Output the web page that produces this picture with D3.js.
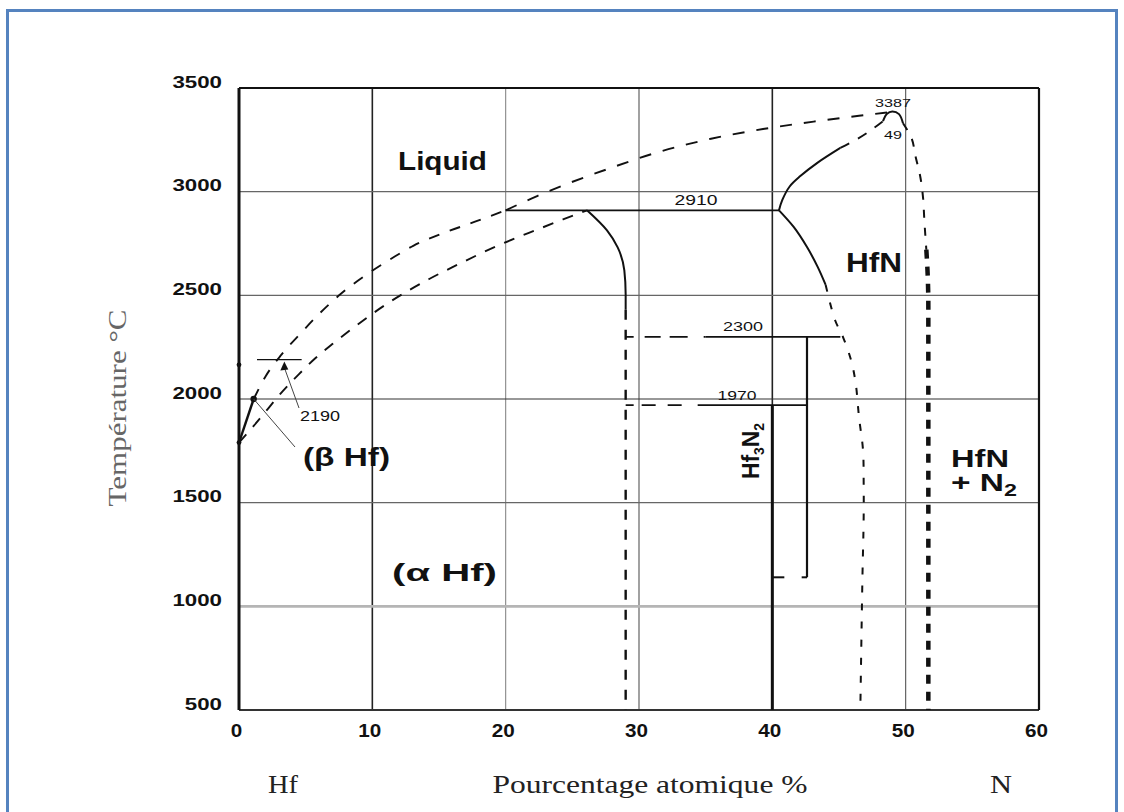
<!DOCTYPE html>
<html>
<head>
<meta charset="utf-8">
<script src="https://cdn.jsdelivr.net/npm/d3@7"></script>
<style>
  html, body { margin: 0; padding: 0; background: #fff; }
  svg { display: block; }
</style>
</head>
<body>
<svg id="chart" width="1124" height="812"></svg>
<script>
// Hf–N phase diagram: composition in at.% N against temperature in °C

const xTicks = [0, 10, 20, 30, 40, 50, 60];
const yTicks = [500, 1000, 1500, 2000, 2500, 3000, 3500];

// liquidus on the Hf side, rising to the 2910 °C peritectic
const liquidusHf = [[1.1, 2000], [2, 2110], [3.2, 2215], [4.6, 2315], [6, 2410], [7.6, 2505],
  [9.8, 2610], [11.5, 2680], [13.1, 2740], [15.1, 2795], [17.7, 2855], [20, 2910]];
// liquidus of HfN, from the peritectic to the congruent maximum
const liquidusHfN = [[20, 2910], [22.4, 2980], [24.5, 3035], [27.6, 3108], [31.4, 3190], [35.4, 3255],
  [39.3, 3302], [43.1, 3338], [46.5, 3366], [48.6, 3382]];
// congruent melting maximum of HfN (3387 °C at 49 %)
const meltMax = [[48.3, 3340], [48.6, 3376], [49, 3387], [49.5, 3374], [49.8, 3330]];
// solidus of (αHf)
const solidusAlpha = [[0, 1790], [1.1, 1870], [2.2, 1955], [3.1, 2025], [4.5, 2120], [5.7, 2195],
  [7.0, 2265], [8.3, 2330], [11.0, 2455], [14.3, 2580], [16.4, 2648], [17.9, 2695], [19.6, 2745],
  [22.4, 2818], [24.3, 2866], [26.1, 2910]];
// (αHf) solvus
const solvusAlpha = [[26.1, 2910], [27.6, 2813], [28.4, 2731], [28.9, 2620], [29.0, 2505], [29.0, 2430]];
const solvusAlphaLow = [[29.0, 2430], [29.0, 500]];
// HfN solidus towards the maximum
const solidusHfN = [[40.5, 2910], [40.75, 2960], [41.3, 3025], [42.1, 3075], [43.4, 3140], [45.1, 3211]];
const solidusHfNHigh = [[45.1, 3211], [47.1, 3283], [48.3, 3340]];
// Hf-rich boundary of HfN
const boundaryHfN = [[40.5, 2910], [41.6, 2830], [42.6, 2733], [43.4, 2637], [44.0, 2550]];
const boundaryHfNLow = [[44.0, 2550], [44.7, 2381], [45.3, 2299], [45.9, 2188], [46.25, 2077],
  [46.5, 1913], [46.8, 1754], [46.85, 1595], [46.85, 1431], [46.75, 1113], [46.6, 500]];
// N-rich boundary of HfN (HfN + N2)
const boundaryN = [[49.8, 3330], [50.4, 3264], [50.75, 3167], [51.1, 3071], [51.3, 2974],
  [51.4, 2863], [51.55, 2720]];
const boundaryNLow = [[51.55, 2720], [51.65, 2600], [51.7, 2450], [51.7, 500]];
// (βHf) field
const betaHf = [[0, 1790], [1.1, 2000]];
const peritecticBeta = [[1.35, 2190], [4.7, 2190]];
// isotherms
const iso2910 = [[20, 2910], [40.5, 2910]];
const iso2300Open = [[29.0, 2300], [35.0, 2300]];
const iso2300 = [[35.0, 2300], [45.1, 2300]];
const iso1970Open = [[29.0, 1970], [34.5, 1970]];
const iso1970 = [[34.5, 1970], [42.6, 1970]];
// Hf3N2 phase
const hf3n2Left = [[40.0, 1970], [40.0, 500]];
const hf3n2Right = [[42.6, 2300], [42.6, 1140]];
const hf3n2FootL = [[40.0, 1140], [40.9, 1140]];
const hf3n2FootR = [[42.2, 1140], [42.6, 1140]];
const dots = [[0, 1790], [1.1, 2000], [0, 2165]];

const sans = "'Liberation Sans', Arial, sans-serif";
const serif = "'Liberation Serif', 'Times New Roman', serif";

const svg = d3.select("#chart");

const x = d3.scaleLinear().domain([0, 60]).range([239, 1039]);
const y = d3.scaleLinear().domain([500, 3500]).range([710, 88]);

// page frame
svg.append("rect")
  .attr("x", 7.5).attr("y", 10.5).attr("width", 1109).attr("height", 860)
  .attr("fill", "none").attr("stroke", "#5583bf").attr("stroke-width", 3);

// grid
xTicks.slice(1, -1).forEach(v => {
  const dark = v === 10 || v === 40;
  svg.append("line")
    .attr("x1", x(v)).attr("x2", x(v)).attr("y1", y(3500)).attr("y2", y(500))
    .attr("stroke", dark ? "#222" : (v === 20 ? "#888" : "#555"))
    .attr("stroke-width", dark ? 1.6 : 1.1);
});
yTicks.slice(1, -1).forEach(v => {
  const light = v === 1000;
  svg.append("line")
    .attr("x1", x(0)).attr("x2", x(60)).attr("y1", y(v)).attr("y2", y(v))
    .attr("stroke", light ? "#b5b5b5" : (v === 2000 ? "#333" : "#666"))
    .attr("stroke-width", light ? 2.6 : 1.1);
});

// plot frame
svg.append("line").attr("x1", x(0)).attr("x2", x(60)).attr("y1", y(3500)).attr("y2", y(3500))
  .attr("stroke", "#111").attr("stroke-width", 2);
svg.append("line").attr("x1", x(0)).attr("x2", x(60)).attr("y1", y(500)).attr("y2", y(500))
  .attr("stroke", "#333").attr("stroke-width", 2.2);
svg.append("line").attr("x1", x(0)).attr("x2", x(0)).attr("y1", y(3500)).attr("y2", y(500))
  .attr("stroke", "#111").attr("stroke-width", 3);
svg.append("line").attr("x1", x(60)).attr("x2", x(60)).attr("y1", y(3500)).attr("y2", y(500))
  .attr("stroke", "#111").attr("stroke-width", 2.2);

// tick labels through D3 axes (no domain, no tick lines)
const yAxis = svg.append("g").attr("transform", `translate(${x(0) - 17},0)`)
  .call(d3.axisLeft(y).tickValues(yTicks).tickFormat(d3.format("d")).tickSize(0).tickPadding(0));
yAxis.select(".domain").remove();
yAxis.selectAll("text")
  .attr("font-family", sans).attr("font-size", 17).attr("font-weight", "bold")
  .attr("fill", "#111").attr("dy", "-0.05em")
  .attr("textLength", d => String(d).length * 12.4).attr("lengthAdjust", "spacingAndGlyphs");

const xAxis = svg.append("g").attr("transform", `translate(-3,${y(500) + 14})`)
  .call(d3.axisBottom(x).tickValues(xTicks).tickFormat(d3.format("d")).tickSize(0).tickPadding(0));
xAxis.select(".domain").remove();
xAxis.selectAll("text")
  .attr("font-family", sans).attr("font-size", 18).attr("font-weight", "bold")
  .attr("fill", "#111")
  .attr("textLength", d => String(d).length * 11.5).attr("lengthAdjust", "spacingAndGlyphs");

// axis titles
svg.append("text")
  .attr("transform", "translate(126,408) rotate(-90)")
  .attr("text-anchor", "middle")
  .attr("font-family", serif).attr("font-size", 25).attr("fill", "#666")
  .attr("textLength", 197).attr("lengthAdjust", "spacingAndGlyphs")
  .text("Température °C");
[["Hf", 283, 30], ["Pourcentage atomique %", 650, 315], ["N", 1001, 22]].forEach(([t, cx, w]) => {
  svg.append("text")
    .attr("x", cx).attr("y", 793).attr("text-anchor", "middle")
    .attr("font-family", serif).attr("font-size", 25).attr("fill", "#222")
    .attr("textLength", w).attr("lengthAdjust", "spacingAndGlyphs")
    .text(t);
});

// phase boundaries
const smooth = d3.line().x(d => x(d[0])).y(d => y(d[1])).curve(d3.curveMonotoneX);
const smoothY = d3.line().x(d => x(d[0])).y(d => y(d[1])).curve(d3.curveMonotoneY);
const arc = d3.line().x(d => x(d[0])).y(d => y(d[1])).curve(d3.curveCatmullRom.alpha(0.5));
const straight = d3.line().x(d => x(d[0])).y(d => y(d[1]));

function draw(data, gen, width, dash) {
  svg.append("path")
    .attr("d", gen(data))
    .attr("fill", "none").attr("stroke", "#111")
    .attr("stroke-width", width)
    .attr("stroke-dasharray", dash || null)
    .attr("stroke-linecap", "butt");
}

draw(liquidusHf, smooth, 1.9, "11,11");
draw(liquidusHfN, smooth, 1.9, "12,12");
draw(meltMax, arc, 2, null);
draw(solidusAlpha, smooth, 1.9, "11,10");
draw(solvusAlpha, smoothY, 2, null);
draw(solvusAlphaLow, straight, 2.4, "10,10");
draw(solidusHfN, arc, 2, null);
draw(solidusHfNHigh, smooth, 1.9, "10,10");
draw(boundaryHfN, smoothY, 2, null);
draw(boundaryHfNLow, arc, 2, "7,11");
draw(boundaryN, smoothY, 2, "8,10");
draw(boundaryNLow, smoothY, 4.5, "9,8");
draw(betaHf, straight, 2.4, null);
draw(peritecticBeta, straight, 1.4, null);
draw(iso2910, straight, 1.8, null);
draw(iso2300Open, straight, 1.8, "8,11,16,9,18,16");
draw(iso2300, straight, 1.8, null);
draw(iso1970Open, straight, 1.8, "8,8,14,12,14,16");
draw(iso1970, straight, 1.8, null);
draw(hf3n2Left, straight, 3, null);
draw(hf3n2Right, straight, 2.2, null);
draw(hf3n2FootL, straight, 2, null);
draw(hf3n2FootR, straight, 2, null);

svg.selectAll("circle.pt").data(dots).join("circle")
  .attr("class", "pt")
  .attr("cx", d => x(d[0])).attr("cy", d => y(d[1]))
  .attr("r", (d, i) => i === 1 ? 3.2 : 2.4)
  .attr("fill", "#111");

// leader from (βHf) to the field, arrow to the 2190 isotherm
svg.append("line")
  .attr("x1", x(betaHf[1][0])).attr("y1", y(betaHf[1][1]))
  .attr("x2", 295).attr("y2", 447)
  .attr("stroke", "#444").attr("stroke-width", 1);
const tipX = x(3.4), tipY = y(peritecticBeta[0][1]) + 2;
svg.append("line")
  .attr("x1", 299).attr("y1", 408).attr("x2", tipX).attr("y2", tipY + 6)
  .attr("stroke", "#444").attr("stroke-width", 1);
svg.append("path")
  .attr("d", `M${tipX},${tipY} L${tipX - 4},${tipY + 9} L${tipX + 4},${tipY + 8} Z`)
  .attr("fill", "#111");

// value labels
function label(t, cx, base, size, w) {
  svg.append("text")
    .attr("x", cx).attr("y", base).attr("text-anchor", "middle")
    .attr("font-family", sans).attr("font-size", size).attr("fill", "#111")
    .attr("textLength", w).attr("lengthAdjust", "spacingAndGlyphs")
    .text(t);
}
label(String(iso2910[0][1]), 696, y(iso2910[0][1]) - 5, 15, 43);
label(String(iso2300[0][1]), 743, y(iso2300[0][1]) - 6, 13, 40);
label(String(iso1970[0][1]), 737, y(iso1970[0][1]) - 5, 13, 39);
label(String(peritecticBeta[0][1]), 320, 421, 14, 40);
label(String(meltMax[2][1]), 893, y(meltMax[2][1]) - 4, 11, 36);
label(String(meltMax[2][0]), 893, 139, 11, 18);

// phase field names
function phase(t, x0, base, size, w) {
  return svg.append("text")
    .attr("x", x0).attr("y", base)
    .attr("font-family", sans).attr("font-size", size).attr("font-weight", "bold")
    .attr("fill", "#111").attr("textLength", w).attr("lengthAdjust", "spacingAndGlyphs")
    .text(t);
}
phase("Liquid", 398, 170, 26, 89);
phase("HfN", 846, 272, 27, 56);
phase("HfN", 951, 467, 24, 58);
phase("(α Hf)", 392, 581, 24, 105);
phase("(β Hf)", 303, 466, 25, 87);

const plusN2 = svg.append("text")
  .attr("x", 951).attr("y", 491)
  .attr("font-family", sans).attr("font-size", 23).attr("font-weight", "bold").attr("fill", "#111")
  .attr("textLength", 66).attr("lengthAdjust", "spacingAndGlyphs");
plusN2.append("tspan").text("+ N");
plusN2.append("tspan").attr("dy", 5).attr("font-size", 16).text("2");

const hf3n2 = svg.append("text")
  .attr("transform", "translate(759,451) rotate(-90)")
  .attr("text-anchor", "middle")
  .attr("font-family", sans).attr("font-size", 23).attr("font-weight", "bold").attr("fill", "#111")
  .attr("textLength", 56).attr("lengthAdjust", "spacingAndGlyphs");
hf3n2.append("tspan").text("Hf");
hf3n2.append("tspan").attr("dy", 5).attr("font-size", 14).text("3");
hf3n2.append("tspan").attr("dy", -5).text("N");
hf3n2.append("tspan").attr("dy", 5).attr("font-size", 14).text("2");
</script>
</body>
</html>
